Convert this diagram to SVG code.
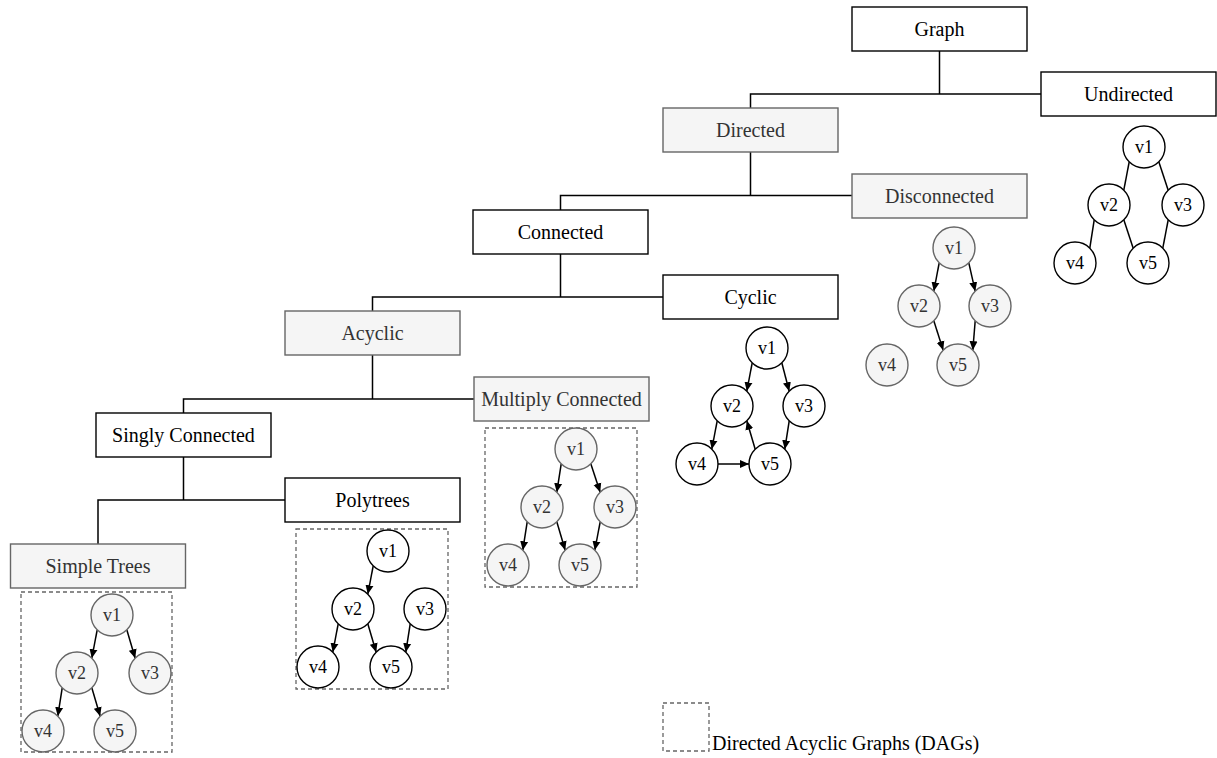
<svg xmlns="http://www.w3.org/2000/svg" width="1217" height="758" viewBox="0 0 1217 758">
<style>
text{font-family:"Liberation Serif","Times New Roman",serif;text-anchor:middle}
.bw{fill:#fff;stroke:#000;stroke-width:1.4}
.bg{fill:#f5f5f5;stroke:#666;stroke-width:1.4}
.lb{font-size:20px;fill:#000}
.lg{font-size:20px;fill:#333}
.cw{fill:#fff;stroke:#000;stroke-width:1.4}
.cg{fill:#f5f5f5;stroke:#666;stroke-width:1.4}
.nw{font-size:18px;fill:#000}
.ng{font-size:18px;fill:#333}
.tree{fill:none;stroke:#000;stroke-width:1.5}
.e{stroke:#000;stroke-width:1.5;fill:none}
.ea{stroke:#000;stroke-width:1.5;fill:none;marker-end:url(#arr)}
.dash{fill:none;stroke:#666;stroke-width:1.3;stroke-dasharray:4 3}
</style>
<defs>
<marker id="arr" markerUnits="userSpaceOnUse" markerWidth="10" markerHeight="9" refX="9" refY="4.5" orient="auto">
<path d="M0,0.5 L9,4.5 L0,8.5 z" fill="#000"/>
</marker>
</defs>
<rect width="1217" height="758" fill="#fff"/>

<g id="connectors">
<path class="tree" d="M939.5 51 V94 H750.5 V108 M939.5 94 H1041"/>
<path class="tree" d="M750.5 152 V195.5 H560.5 V210 M750.5 195.5 H852"/>
<path class="tree" d="M560.5 254 V297 H372.5 V311 M560.5 297 H663"/>
<path class="tree" d="M372.5 355 V399 H183.5 V413 M372.5 399 H474"/>
<path class="tree" d="M183.5 457 V500 H98 V544 M183.5 500 H285"/>
<!-- undirected -->
<line class="e" x1="1129.2" y1="161.8" x2="1123.8" y2="190.2"/>
<line class="e" x1="1158.8" y1="161.8" x2="1168.2" y2="190.2"/>
<line class="e" x1="1094.2" y1="219.8" x2="1089.8" y2="248.2"/>
<line class="e" x1="1123.8" y1="219.8" x2="1133.2" y2="248.2"/>
<line class="e" x1="1168.2" y1="219.8" x2="1162.8" y2="248.2"/>
<!-- disconnected -->
<line class="ea" x1="939.2" y1="262.8" x2="933.8" y2="291.2"/>
<line class="ea" x1="968.8" y1="262.8" x2="975.2" y2="291.2"/>
<line class="ea" x1="933.8" y1="320.8" x2="943.2" y2="350.2"/>
<line class="ea" x1="975.2" y1="320.8" x2="972.8" y2="350.2"/>
<!-- cyclic -->
<line class="ea" x1="752.2" y1="362.8" x2="746.8" y2="391.2"/>
<line class="ea" x1="781.8" y1="362.8" x2="789.2" y2="391.2"/>
<line class="ea" x1="717.2" y1="420.8" x2="711.8" y2="449.2"/>
<line class="ea" x1="789.2" y1="420.8" x2="784.8" y2="449.2"/>
<line class="ea" x1="718" y1="464" x2="749" y2="464"/>
<line class="ea" x1="755.2" y1="449.2" x2="746.8" y2="420.8"/>
<!-- multiply connected -->
<line class="ea" x1="561.2" y1="463.8" x2="556.8" y2="492.2"/>
<line class="ea" x1="590.8" y1="463.8" x2="600.2" y2="492.2"/>
<line class="ea" x1="527.2" y1="521.8" x2="522.8" y2="550.2"/>
<line class="ea" x1="556.8" y1="521.8" x2="565.2" y2="550.2"/>
<line class="ea" x1="600.2" y1="521.8" x2="594.8" y2="550.2"/>
<!-- polytrees -->
<line class="ea" x1="373.2" y1="565.8" x2="367.8" y2="594.2"/>
<line class="ea" x1="338.2" y1="623.8" x2="332.8" y2="652.2"/>
<line class="ea" x1="367.8" y1="623.8" x2="376.2" y2="652.2"/>
<line class="ea" x1="410.2" y1="623.8" x2="405.8" y2="652.2"/>
<!-- simple trees -->
<line class="ea" x1="97.2" y1="629.8" x2="91.8" y2="658.2"/>
<line class="ea" x1="126.8" y1="629.8" x2="135.2" y2="658.2"/>
<line class="ea" x1="62.2" y1="687.8" x2="57.8" y2="716.2"/>
<line class="ea" x1="91.8" y1="687.8" x2="100.2" y2="716.2"/>
</g>

<g id="dag-boxes">
<rect class="dash" x="485" y="428" width="152" height="159"/>
<rect class="dash" x="296" y="529" width="152" height="160"/>
<rect class="dash" x="21" y="592" width="151" height="160"/>
</g>

<g id="graph"><rect class="bw" x="852" y="7" width="175" height="44"/><text class="lb" x="939.5" y="36">Graph</text></g>
<g id="undirected"><rect class="bw" x="1041" y="72" width="175" height="44"/><text class="lb" x="1128.5" y="101">Undirected</text></g>
<g id="directed"><rect class="bg" x="663" y="108" width="175" height="44"/><text class="lg" x="750.5" y="137">Directed</text></g>
<g id="disconnected"><rect class="bg" x="852" y="174" width="175" height="44"/><text class="lg" x="939.5" y="203">Disconnected</text></g>
<g id="connected"><rect class="bw" x="473" y="210" width="175" height="44"/><text class="lb" x="560.5" y="239">Connected</text></g>
<g id="cyclic"><rect class="bw" x="663" y="275" width="175" height="44"/><text class="lb" x="750.5" y="304">Cyclic</text></g>
<g id="acyclic"><rect class="bg" x="285" y="311" width="175" height="44"/><text class="lg" x="372.5" y="340">Acyclic</text></g>
<g id="multiply"><rect class="bg" x="474" y="377" width="175" height="44"/><text class="lg" x="561.5" y="406">Multiply Connected</text></g>
<g id="singly"><rect class="bw" x="96" y="413" width="175" height="44"/><text class="lb" x="183.5" y="442">Singly Connected</text></g>
<g id="polytrees"><rect class="bw" x="285" y="478" width="175" height="44"/><text class="lb" x="372.5" y="507">Polytrees</text></g>
<g id="simpletrees"><rect class="bg" x="10.5" y="544" width="175" height="44"/><text class="lg" x="98" y="573">Simple Trees</text></g>

<g id="u-v1"><circle class="cw" cx="1144" cy="147" r="21"/><text class="nw" x="1144" y="153">v1</text></g>
<g id="u-v2"><circle class="cw" cx="1109" cy="205" r="21"/><text class="nw" x="1109" y="211">v2</text></g>
<g id="u-v3"><circle class="cw" cx="1183" cy="205" r="21"/><text class="nw" x="1183" y="211">v3</text></g>
<g id="u-v4"><circle class="cw" cx="1075" cy="263" r="21"/><text class="nw" x="1075" y="269">v4</text></g>
<g id="u-v5"><circle class="cw" cx="1148" cy="263" r="21"/><text class="nw" x="1148" y="269">v5</text></g>

<g id="d-v1"><circle class="cg" cx="954" cy="248" r="21"/><text class="ng" x="954" y="254">v1</text></g>
<g id="d-v2"><circle class="cg" cx="919" cy="306" r="21"/><text class="ng" x="919" y="312">v2</text></g>
<g id="d-v3"><circle class="cg" cx="990" cy="306" r="21"/><text class="ng" x="990" y="312">v3</text></g>
<g id="d-v4"><circle class="cg" cx="887" cy="365" r="21"/><text class="ng" x="887" y="371">v4</text></g>
<g id="d-v5"><circle class="cg" cx="958" cy="365" r="21"/><text class="ng" x="958" y="371">v5</text></g>

<g id="c-v1"><circle class="cw" cx="767" cy="348" r="21"/><text class="nw" x="767" y="354">v1</text></g>
<g id="c-v2"><circle class="cw" cx="732" cy="406" r="21"/><text class="nw" x="732" y="412">v2</text></g>
<g id="c-v3"><circle class="cw" cx="804" cy="406" r="21"/><text class="nw" x="804" y="412">v3</text></g>
<g id="c-v4"><circle class="cw" cx="697" cy="464" r="21"/><text class="nw" x="697" y="470">v4</text></g>
<g id="c-v5"><circle class="cw" cx="770" cy="464" r="21"/><text class="nw" x="770" y="470">v5</text></g>

<g id="m-v1"><circle class="cg" cx="576" cy="449" r="21"/><text class="ng" x="576" y="455">v1</text></g>
<g id="m-v2"><circle class="cg" cx="542" cy="507" r="21"/><text class="ng" x="542" y="513">v2</text></g>
<g id="m-v3"><circle class="cg" cx="615" cy="507" r="21"/><text class="ng" x="615" y="513">v3</text></g>
<g id="m-v4"><circle class="cg" cx="508" cy="565" r="21"/><text class="ng" x="508" y="571">v4</text></g>
<g id="m-v5"><circle class="cg" cx="580" cy="565" r="21"/><text class="ng" x="580" y="571">v5</text></g>

<g id="p-v1"><circle class="cw" cx="388" cy="551" r="21"/><text class="nw" x="388" y="557">v1</text></g>
<g id="p-v2"><circle class="cw" cx="353" cy="609" r="21"/><text class="nw" x="353" y="615">v2</text></g>
<g id="p-v3"><circle class="cw" cx="425" cy="609" r="21"/><text class="nw" x="425" y="615">v3</text></g>
<g id="p-v4"><circle class="cw" cx="318" cy="667" r="21"/><text class="nw" x="318" y="673">v4</text></g>
<g id="p-v5"><circle class="cw" cx="391" cy="667" r="21"/><text class="nw" x="391" y="673">v5</text></g>

<g id="s-v1"><circle class="cg" cx="112" cy="615" r="21"/><text class="ng" x="112" y="621">v1</text></g>
<g id="s-v2"><circle class="cg" cx="77" cy="673" r="21"/><text class="ng" x="77" y="679">v2</text></g>
<g id="s-v3"><circle class="cg" cx="150" cy="673" r="21"/><text class="ng" x="150" y="679">v3</text></g>
<g id="s-v4"><circle class="cg" cx="43" cy="731" r="21"/><text class="ng" x="43" y="737">v4</text></g>
<g id="s-v5"><circle class="cg" cx="115" cy="731" r="21"/><text class="ng" x="115" y="737">v5</text></g>

<g id="legend">
<rect class="dash" x="663" y="703" width="46" height="48"/>
<text x="712" y="750" style="font-size:20px;fill:#000;text-anchor:start">Directed Acyclic Graphs (DAGs)</text>
</g>
</svg>
